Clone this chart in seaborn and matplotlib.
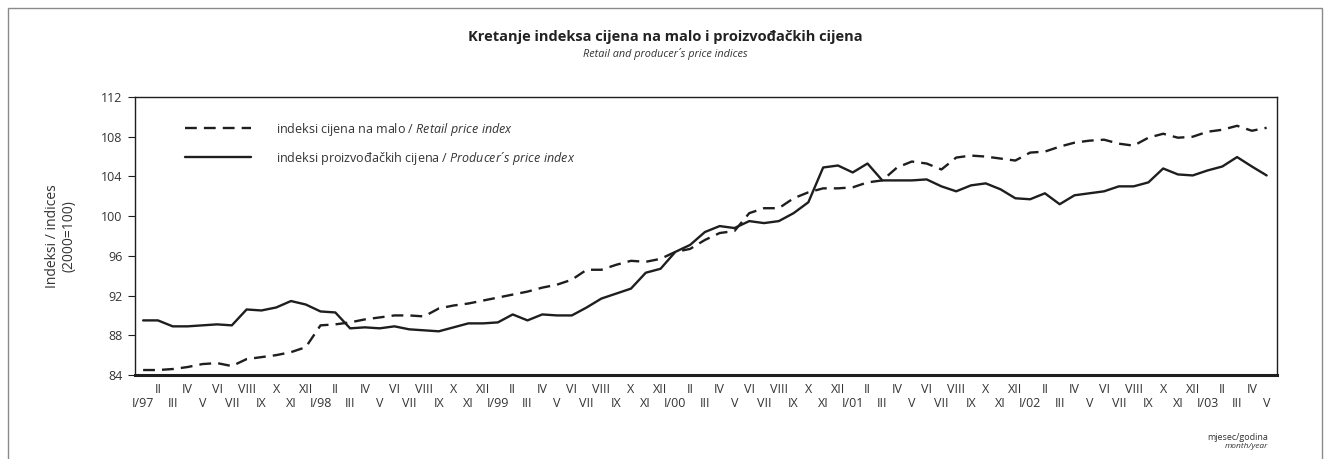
import matplotlib
matplotlib.use("Agg")
import matplotlib.pyplot as plt
import seaborn as sns
import pandas as pd
import numpy as np
from matplotlib.patches import Rectangle

# ---- data -------------------------------------------------------------
roman = ["I", "II", "III", "IV", "V", "VI", "VII", "VIII", "IX", "X", "XI", "XII"]
years = ["97", "98", "99", "00", "01", "02", "03"]
months = [(r, y) for y in years for r in roman][:77]

retail = [
    84.5, 84.5, 84.6, 84.8, 85.1, 85.2, 84.9, 85.6, 85.8, 86.0, 86.3, 86.8,
    89.0, 89.1, 89.3, 89.6, 89.8, 90.0, 90.0, 89.9, 90.7, 91.0, 91.2, 91.5,
    91.8, 92.1, 92.4, 92.8, 93.1, 93.6, 94.6, 94.6, 95.1, 95.5, 95.4, 95.7,
    96.4, 96.7, 97.6, 98.3, 98.5, 100.3, 100.8, 100.8, 101.8, 102.4, 102.8, 102.8,
    102.9, 103.4, 103.6, 104.9, 105.5, 105.3, 104.7, 105.9, 106.1, 106.0, 105.8, 105.6,
    106.4, 106.5, 107.0, 107.4, 107.6, 107.7, 107.3, 107.1, 107.9, 108.3, 107.9, 108.0,
    108.5, 108.7, 109.1, 108.6, 108.9,
]
producer = [
    89.5, 89.5, 88.9, 88.9, 89.0, 89.1, 89.0, 90.6, 90.5, 90.8, 91.45, 91.1,
    90.4, 90.3, 88.7, 88.8, 88.7, 88.9, 88.6, 88.5, 88.4, 88.8, 89.2, 89.2,
    89.3, 90.1, 89.5, 90.1, 90.0, 90.0, 90.8, 91.7, 92.2, 92.7, 94.3, 94.7,
    96.4, 97.1, 98.4, 99.0, 98.8, 99.5, 99.3, 99.5, 100.3, 101.4, 104.9, 105.1,
    104.4, 105.3, 103.6, 103.6, 103.6, 103.7, 103.0, 102.5, 103.1, 103.3, 102.7, 101.8,
    101.7, 102.3, 101.2, 102.1, 102.3, 102.5, 103.0, 103.0, 103.4, 104.8, 104.2, 104.1,
    104.6, 105.0, 105.95, 105.0, 104.1,
]
y_ticks = [84, 88, 92, 96, 100, 104, 108, 112]

title = "Kretanje indeksa cijena na malo i proizvođačkih cijena"
subtitle = "Retail and producer´s price indices"
lab_retail = r"indeksi cijena na malo / $\mathit{Retail\ price\ index}$"
lab_prod = "indeksi proizvođačkih cijena / $\\mathit{Producer´s\\ price\\ index}$"

# ---- style --------------------------------------------------------------
sns.set_theme(style="white")
plt.rcParams["font.family"] = ["Open Sans", "DejaVu Sans"]
plt.rcParams["mathtext.fontset"] = "custom"
plt.rcParams["mathtext.it"] = "Open Sans:italic"
plt.rcParams["mathtext.rm"] = "Open Sans"

TXT = "#333333"
LINE = "#1e1e1e"

x = np.arange(len(months))
df = pd.DataFrame({"x": np.concatenate([x, x]),
                   "value": retail + producer,
                   "series": ["retail"] * len(x) + ["producer"] * len(x)})

fig = plt.figure(figsize=(13.31, 4.59), dpi=100)
ax = fig.add_axes([135 / 1331, 1 - 375 / 459, (1277 - 135) / 1331, (375 - 97) / 459])

sns.lineplot(data=df[df.series == "retail"], x="x", y="value", ax=ax,
             color=LINE, lw=1.7, dashes=False, label=lab_retail)
ax.lines[-1].set_dashes((5.0, 3.0))
sns.lineplot(data=df[df.series == "producer"], x="x", y="value", ax=ax,
             color=LINE, lw=1.7, label=lab_prod)

ax.set_xlim(-0.55, 76.7)
ax.set_ylim(84, 112)
ax.set_yticks(y_ticks)
ax.set_yticklabels([str(v) for v in y_ticks], fontsize=9, color=TXT)

labels = [f"{r}/{yy}" if r == "I" else r for r, yy in months]
# upper row: II, IV, ... (major ticks); lower row: I/97, III, V, ... (minor ticks)
ax.set_xticks(x[1::2])
ax.set_xticklabels(labels[1::2], fontsize=9, color=TXT)
ax.set_xticks(x[0::2], minor=True)
ax.set_xticklabels(labels[0::2], minor=True, fontsize=9, color=TXT)
ax.tick_params(axis="x", which="major", length=0, pad=6)
ax.tick_params(axis="x", which="minor", length=0, pad=16)
ax.tick_params(axis="y", length=5, width=0.8, color=LINE, left=True, pad=4)
ax.set_xlabel("")
ax.set_ylabel("Indeksi / indices\n(2000=100)", fontsize=10, color=TXT, labelpad=18,
              linespacing=1.05)

for s in ["top", "right", "left"]:
    ax.spines[s].set_color(LINE)
    ax.spines[s].set_linewidth(1.0)
ax.spines["bottom"].set_color(LINE)
ax.spines["bottom"].set_linewidth(2.2)

leg = ax.legend(loc="upper left", bbox_to_anchor=(0.034, 0.955), frameon=False,
                fontsize=9, handlelength=5.3, handletextpad=2.0,
                labelspacing=0.95, labelcolor=TXT)

fig.text(0.5, 1 - 37 / 459, title, ha="center", va="center", fontsize=10.5,
         fontweight="bold", color="#222222")
fig.text(0.5, 1 - 54 / 459, subtitle, ha="center", va="center", fontsize=7.8,
         style="italic", color=TXT)
fig.text(1268 / 1331, 1 - 437 / 459, "mjesec/godina", ha="right", va="center",
         fontsize=6.5, color=TXT)
fig.text(1268 / 1331, 1 - 447 / 459, "month/year", ha="right", va="center",
         fontsize=6, style="italic", color=TXT)

fig.patches.append(Rectangle((8 / 1331, -0.05), (1322 - 8) / 1331, 1 - 8 / 459 + 0.05,
                             transform=fig.transFigure, fill=False,
                             edgecolor="#8a8a8a", lw=1.0))

fig.savefig("out.png", dpi=100, facecolor="white")
